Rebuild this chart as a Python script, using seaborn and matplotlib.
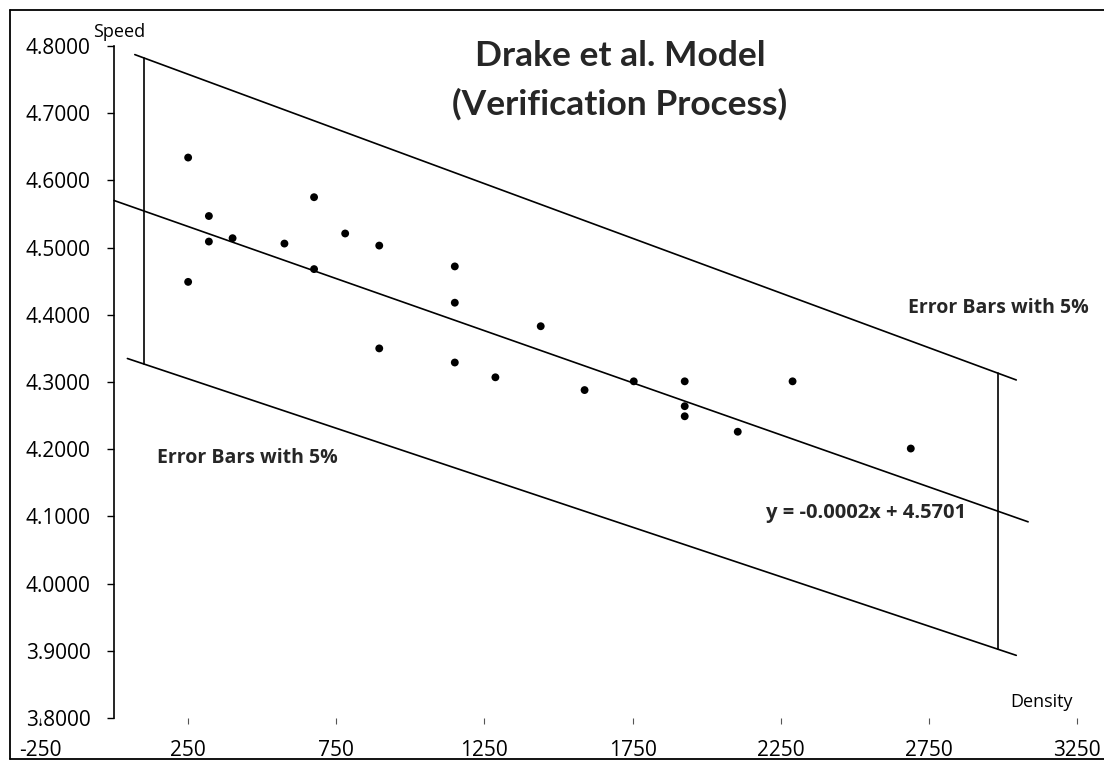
import numpy as np
import matplotlib
matplotlib.use("Agg")
import matplotlib.pyplot as plt
import seaborn as sns

# ---------------- data ----------------
density = [250, 320, 320, 400, 250, 575, 675, 675, 780, 895, 895,
           1150, 1150, 1150, 1440, 1287, 1588, 1754, 1926, 1926, 1926,
           2105, 2290, 2689]
speed = [4.634, 4.547, 4.509, 4.514, 4.449, 4.506, 4.575, 4.468, 4.521,
         4.503, 4.350, 4.472, 4.418, 4.329, 4.383, 4.307, 4.288, 4.301,
         4.301, 4.264, 4.249, 4.226, 4.301, 4.201]

trend_intercept = 4.5701
trend_slope = -0.000155
band_pct = 0.05
trend_range = [0, 3085]
upper_range = [70, 3045]
lower_range = [45, 3045]
errorbar_x = [100, 2985]

x_ticks = [-250, 250, 750, 1250, 1750, 2250, 2750, 3250]
y_ticks = [3.8, 3.9, 4.0, 4.1, 4.2, 4.3, 4.4, 4.5, 4.6, 4.7, 4.8]

title_lines = ["Drake et al. Model", "(Verification Process)"]
equation_text = "y = -0.0002x + 4.5701"
band_label = "Error Bars with 5%"

# ---------------- style ----------------
sns.set_theme(style="white")
plt.rcParams["font.family"] = ["Open Sans", "DejaVu Sans"]

W, H = 1104, 761
fig = plt.figure(figsize=(W / 100, H / 100), dpi=100)
fig.patch.set_facecolor("white")

def px(x, y):
    return x / W, 1 - y / H

left, right, top, bottom = 40, 1077, 46, 718
ax = fig.add_axes([left / W, 1 - bottom / H, (right - left) / W, (bottom - top) / H])
ax.set_facecolor("white")

sns.scatterplot(x=density, y=speed, color="black", s=32, edgecolor="none",
                ax=ax, zorder=5, legend=False)

def trend(x):
    return trend_intercept + trend_slope * np.asarray(x, dtype=float)

lw = 1.2
xt = np.array(trend_range, dtype=float)
ax.plot(xt, trend(xt), color="black", lw=lw)
xu = np.array(upper_range, dtype=float)
ax.plot(xu, trend(xu) * (1 + band_pct), color="black", lw=lw)
xl = np.array(lower_range, dtype=float)
ax.plot(xl, trend(xl) * (1 - band_pct), color="black", lw=lw)
for xe in errorbar_x:
    ax.plot([xe, xe], [trend(xe) * (1 - band_pct), trend(xe) * (1 + band_pct)],
            color="black", lw=lw)

ax.set_xlim(x_ticks[0], x_ticks[-1])
ax.set_ylim(y_ticks[0], y_ticks[-1])
ax.set_xticks(x_ticks)
ax.set_yticks(y_ticks)
ax.set_xticklabels([str(v) for v in x_ticks])
ax.set_yticklabels([f"{v:.4f}" for v in y_ticks])

for s in ["top", "right", "bottom"]:
    ax.spines[s].set_visible(False)
ax.spines["left"].set_position(("data", 0))
ax.spines["left"].set_color("black")
ax.spines["left"].set_linewidth(1.2)

ax.tick_params(axis="y", direction="out", length=5, width=1, color="black",
               pad=12, labelsize=15, labelcolor="black", left=True)
ax.tick_params(axis="x", direction="out", length=4, width=0.8, color="#555555",
               pad=12, labelsize=15, labelcolor="black", bottom=True)
ax.grid(False)
ax.set_xlabel("")
ax.set_ylabel("")

# axis titles
fig.text(*px(93, 32), "Speed", fontsize=13, ha="left", va="center", color="black")
fig.text(*px(1042, 702), "Density", fontsize=13, ha="center", va="center", color="black")

# chart title
fig.text(*px(620, 56), title_lines[0], fontsize=25.5, fontweight="bold",
         ha="center", va="center", family=["Lato", "DejaVu Sans"])
fig.text(*px(620, 104), title_lines[1], fontsize=25.5, fontweight="bold",
         ha="center", va="center", family=["Lato", "DejaVu Sans"])

# annotations
ax.text(145, 4.187, band_label, fontsize=14, fontweight="bold",
        ha="left", va="center")
ax.text(3290, 4.41, band_label, fontsize=14, fontweight="bold",
        ha="right", va="center", clip_on=False)
ax.text(2539, 4.105, equation_text, fontsize=14.5, fontweight="bold",
        ha="center", va="center",
        bbox=dict(facecolor="white", edgecolor="none", pad=1))

# outer frame (left, top, bottom edges)
for xs, ys in [([10, 10], [10, 759]), ([10, W], [10, 10]), ([10, W], [759, 759])]:
    fig.add_artist(plt.Line2D([x / W for x in xs], [1 - y / H for y in ys],
                              transform=fig.transFigure, color="black", lw=1.3))

fig.savefig("out.png", dpi=100, facecolor="white")
